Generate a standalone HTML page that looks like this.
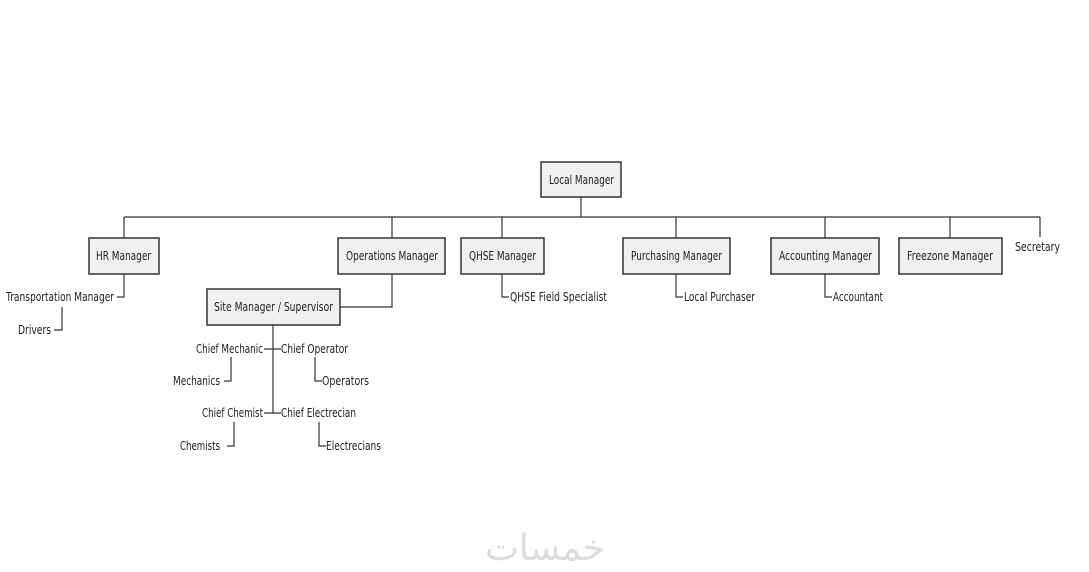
<!DOCTYPE html>
<html><head><style>
html,body{margin:0;padding:0;background:#fff;}
svg{display:block;}
text{font-family:"DejaVu Sans","Liberation Sans",sans-serif;font-size:12px;fill:#222;}
.b{fill:#f0f0f0;stroke:#333;stroke-width:1.5;}
.l{stroke:#333;stroke-width:1.2;fill:none;}
</style></head><body>
<svg width="1089" height="572" viewBox="0 0 1089 572" xmlns="http://www.w3.org/2000/svg">
<path class="l" d="M581 197V217M124 217H1040M124 217V238M392 217V238M502 217V238M676 217V238M825 217V238M950 217V238M1040 217V237"/>
<path class="l" d="M124 274V297H117M62 307V330H54"/>
<path class="l" d="M392 274V307H340"/>
<path class="l" d="M273 325V413M264 349H281M264 413H281M231 357V381H224M315 357V381H322M234 422V446H227M319 422V446H326"/>
<path class="l" d="M502 274V297H509M676 274V297H683M825 274V297H832"/>
<rect class="b" x="541" y="162" width="80" height="35"/>
<rect class="b" x="89" y="238" width="70" height="36"/>
<rect class="b" x="338" y="238" width="107" height="36"/>
<rect class="b" x="461" y="238" width="83" height="36"/>
<rect class="b" x="623" y="238" width="107" height="36"/>
<rect class="b" x="771" y="238" width="108" height="36"/>
<rect class="b" x="899" y="238" width="103" height="36"/>
<rect class="b" x="207" y="289" width="133" height="36"/>
<text x="549" y="184" textLength="65" lengthAdjust="spacingAndGlyphs">Local Manager</text>
<text x="96" y="260" textLength="55" lengthAdjust="spacingAndGlyphs">HR Manager</text>
<text x="346" y="260" textLength="92" lengthAdjust="spacingAndGlyphs">Operations Manager</text>
<text x="469" y="260" textLength="67" lengthAdjust="spacingAndGlyphs">QHSE Manager</text>
<text x="631" y="260" textLength="91" lengthAdjust="spacingAndGlyphs">Purchasing Manager</text>
<text x="779" y="260" textLength="93" lengthAdjust="spacingAndGlyphs">Accounting Manager</text>
<text x="907" y="260" textLength="86" lengthAdjust="spacingAndGlyphs">Freezone Manager</text>
<text x="214" y="311" textLength="119" lengthAdjust="spacingAndGlyphs">Site Manager / Supervisor</text>
<text x="6" y="301" textLength="108" lengthAdjust="spacingAndGlyphs">Transportation Manager</text>
<text x="18" y="334" textLength="33" lengthAdjust="spacingAndGlyphs">Drivers</text>
<text x="196" y="353" textLength="67" lengthAdjust="spacingAndGlyphs">Chief Mechanic</text>
<text x="173" y="385" textLength="47" lengthAdjust="spacingAndGlyphs">Mechanics</text>
<text x="202" y="417" textLength="61" lengthAdjust="spacingAndGlyphs">Chief Chemist</text>
<text x="180" y="450" textLength="40" lengthAdjust="spacingAndGlyphs">Chemists</text>
<text x="1015" y="251" textLength="45" lengthAdjust="spacingAndGlyphs">Secretary</text>
<text x="281" y="353" textLength="67" lengthAdjust="spacingAndGlyphs">Chief Operator</text>
<text x="322" y="385" textLength="47" lengthAdjust="spacingAndGlyphs">Operators</text>
<text x="281" y="417" textLength="75" lengthAdjust="spacingAndGlyphs">Chief Electrecian</text>
<text x="326" y="450" textLength="55" lengthAdjust="spacingAndGlyphs">Electrecians</text>
<text x="510" y="301" textLength="97" lengthAdjust="spacingAndGlyphs">QHSE Field Specialist</text>
<text x="684" y="301" textLength="71" lengthAdjust="spacingAndGlyphs">Local Purchaser</text>
<text x="833" y="301" textLength="50" lengthAdjust="spacingAndGlyphs">Accountant</text>
<text x="545" y="560" text-anchor="middle" style="font-family:'DejaVu Sans',sans-serif;font-size:36px;fill:#dcdcdc;">خمسات</text>
</svg>
</body></html>
